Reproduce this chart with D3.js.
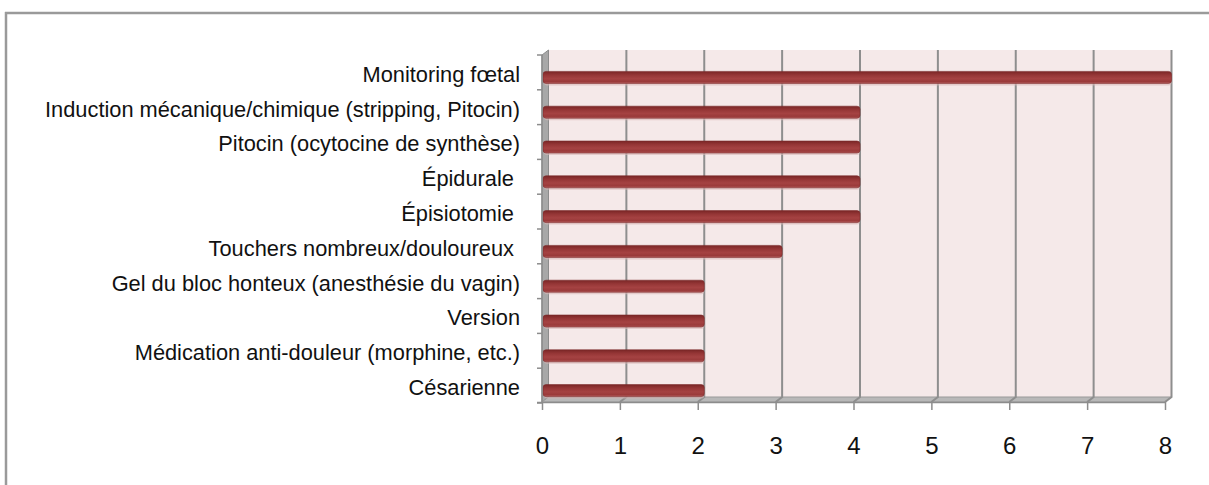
<!DOCTYPE html>
<html>
<head>
<meta charset="utf-8">
<script src="https://cdn.jsdelivr.net/npm/d3@7"></script>
<style>
html,body{margin:0;padding:0;background:#fff;}
svg{display:block;}
</style>
</head>
<body>
<svg id="chart" width="1209" height="485"></svg>
<script>
const categories = [
  "Monitoring fœtal",
  "Induction mécanique/chimique (stripping, Pitocin)",
  "Pitocin (ocytocine de synthèse)",
  "Épidurale ",
  "Épisiotomie ",
  "Touchers nombreux/douloureux ",
  "Gel du bloc honteux (anesthésie du vagin)",
  "Version",
  "Médication anti-douleur (morphine, etc.)",
  "Césarienne"
];
const values = [8, 4, 4, 4, 4, 3, 2, 2, 2, 2];
const xTicks = [0, 1, 2, 3, 4, 5, 6, 7, 8];

const svg = d3.select("#chart");
const dx = 6.5, dy = -5;
const x = d3.scaleLinear().domain([0, 8]).range([542, 1165]);
const y = d3.scaleBand().domain(categories).range([55, 403]);
const yTop = 55, yBot = 402;

// outer frame
svg.append("line").attr("x1", 6).attr("x2", 6).attr("y1", 12).attr("y2", 485)
  .attr("stroke", "#9a9a9a").attr("stroke-width", 2.5);
svg.append("line").attr("x1", 5).attr("x2", 1209).attr("y1", 13).attr("y2", 13)
  .attr("stroke", "#9a9a9a").attr("stroke-width", 2.5);

const defs = svg.append("defs");
const g1 = defs.append("linearGradient").attr("id", "barGrad")
  .attr("x1", 0).attr("x2", 0).attr("y1", 0).attr("y2", 1);
[[0, "#7a2626"], [0.3, "#953636"], [0.6, "#a54242"], [0.85, "#9a3a3a"], [1, "#b86060"]]
  .forEach(([o, c]) => g1.append("stop").attr("offset", o).attr("stop-color", c));

// back wall
svg.append("rect").attr("x", x(0) + dx).attr("y", yTop + dy)
  .attr("width", x(8) - x(0)).attr("height", yBot - yTop)
  .attr("fill", "#f5e9e9");

// left side wall
svg.append("path")
  .attr("d", `M${x(0)},${yTop} L${x(0) + dx},${yTop + dy} L${x(0) + dx},${yBot + dy} L${x(0)},${yBot} Z`)
  .attr("fill", "#a8a8a8").attr("stroke", "#8c8c8c").attr("stroke-width", 1);

// floor
svg.append("path")
  .attr("d", `M${x(0)},${yBot} L${x(0) + dx},${yBot + dy} L${x(8) + dx},${yBot + dy} L${x(8)},${yBot} Z`)
  .attr("fill", "#b8b8b8").attr("stroke", "#999").attr("stroke-width", 1);

// gridlines on back wall
svg.append("g").selectAll("path").data(xTicks.filter(d => d > 0)).join("path")
  .attr("d", d => `M${x(d) + dx},${yTop + dy} L${x(d) + dx},${yBot + dy} L${x(d)},${yBot}`)
  .attr("fill", "none").attr("stroke", "#8e8e8e").attr("stroke-width", 2);

// bars
const bh = 12;
const bars = svg.append("g");
bars.selectAll("rect.shadow").data(values).join("rect")
  .attr("class", "shadow")
  .attr("x", x(0) + 2)
  .attr("y", (d, i) => y(categories[i]) + y.bandwidth() / 2 + 5 - bh / 2 + 2)
  .attr("width", d => x(d) + dx - x(0) - 2)
  .attr("height", bh)
  .attr("rx", 3)
  .attr("fill", "#d9b8b8").attr("opacity", 0.6);
bars.selectAll("rect.bar").data(values).join("rect")
  .attr("class", "bar")
  .attr("x", x(0) + 1)
  .attr("y", (d, i) => y(categories[i]) + y.bandwidth() / 2 + 5 - bh / 2)
  .attr("width", d => x(d) + dx - x(0) - 1)
  .attr("height", bh)
  .attr("rx", 3)
  .attr("fill", "url(#barGrad)")
  .attr("stroke", "#7a2a2a").attr("stroke-width", 0.6);

// left axis line and ticks
svg.append("line").attr("x1", x(0)).attr("x2", x(0)).attr("y1", yTop).attr("y2", yBot)
  .attr("stroke", "#8c8c8c").attr("stroke-width", 1.5);
const bounds = categories.map(c => y(c)).concat([y.range()[1]]);
svg.append("g").selectAll("line").data(bounds).join("line")
  .attr("x1", x(0) - 5).attr("x2", x(0)).attr("y1", d => d).attr("y2", d => d)
  .attr("stroke", "#8c8c8c").attr("stroke-width", 1.5);

// category labels via axis
const yAxis = svg.append("g").attr("transform", `translate(${x(0) - 22},0)`)
  .call(d3.axisLeft(y).tickSize(0).tickPadding(0));
yAxis.select(".domain").remove();
yAxis.selectAll("text")
  .attr("dy", "0.32em")
  .attr("transform", "translate(0,2.5)")
  .style("white-space", "pre")
  .style("font-family", "'Liberation Sans', Arial, Helvetica, sans-serif")
  .style("font-size", "21.8px").attr("fill", "#111");

// bottom axis
const xAxis = svg.append("g").attr("transform", `translate(0,${yBot})`)
  .call(d3.axisBottom(x).tickValues(xTicks).tickSize(8).tickPadding(27).tickSizeOuter(0));
xAxis.select(".domain").attr("stroke", "#8c8c8c").attr("stroke-width", 1.5)
  .attr("d", `M${x(0) - 5},0.5H${x(8)}`);
xAxis.selectAll(".tick line").attr("stroke", "#8c8c8c").attr("stroke-width", 1.5);
xAxis.selectAll("text")
  .style("font-family", "'Liberation Sans', Arial, Helvetica, sans-serif")
  .style("font-size", "24px").attr("fill", "#111");
</script>
</body>
</html>
